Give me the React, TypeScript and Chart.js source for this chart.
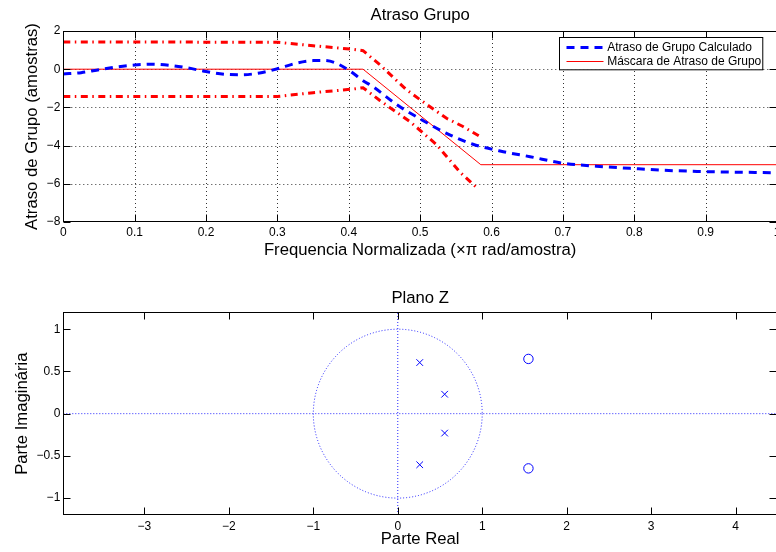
import { useEffect, useRef } from "react";
import { Chart, registerables } from "chart.js";

Chart.register(...registerables);

const FONT = '"Liberation Sans", Arial, Helvetica, sans-serif';

// ---------- Top chart: group delay ----------
const calcFreq = [0, 0.025, 0.05, 0.075, 0.1, 0.125, 0.15, 0.175, 0.2, 0.225, 0.25, 0.275, 0.3, 0.325, 0.35, 0.365, 0.38, 0.4, 0.42, 0.434, 0.467, 0.5, 0.537, 0.574, 0.6165, 0.654, 0.7, 0.747, 0.794, 0.84, 0.888, 0.94, 1.0];
const calcDelay = [-0.25, -0.18, -0.03, 0.12, 0.22, 0.26, 0.2, 0.06, -0.12, -0.26, -0.29, -0.2, 0.02, 0.3, 0.45, 0.46, 0.35, -0.05, -0.6, -0.92, -1.85, -2.6, -3.36, -3.93, -4.32, -4.58, -4.92, -5.08, -5.19, -5.29, -5.35, -5.39, -5.42];

const maskFreq = [0, 0.42, 0.585, 1];
const maskDelay = [0, 0, -5, -5];

const upperFreq = [0, 0.3, 0.35, 0.406, 0.42, 0.444, 0.48, 0.5, 0.537, 0.56, 0.584];
const upperDelay = [1.43, 1.41, 1.23, 1.04, 0.97, 0.22, -1.05, -1.6, -2.57, -3.0, -3.53];

const lowerFreq = [0, 0.3, 0.35, 0.406, 0.42, 0.444, 0.486, 0.523, 0.556, 0.582];
const lowerDelay = [-1.43, -1.43, -1.23, -1.04, -0.97, -1.65, -2.75, -3.95, -5.4, -6.3];

const topXTicks = [0, 0.1, 0.2, 0.3, 0.4, 0.5, 0.6, 0.7, 0.8, 0.9, 1];
const topYTicks = [-8, -6, -4, -2, 0, 2];
const topXLimits = [0, 1];
const topYLimits = [-8, 2];

// ---------- Bottom chart: Z plane ----------
const poleRe = [0.26, 0.555, 0.555, 0.26];
const poleIm = [0.605, 0.23, -0.23, -0.605];
const zeroRe = [1.547, 1.547];
const zeroIm = [0.648, -0.648];
const zXTicks = [-3, -2, -1, 0, 1, 2, 3, 4];
const zYTicks = [-1, -0.5, 0, 0.5, 1];
const zXLimits = [-3.96, 4.49];
const zYLimits = [-1.2, 1.2];
const unitRadius = 1;

const BLUE = "#0000ff";
const RED = "#ff0000";
const DOT_BLUE = "rgba(0,0,255,0.85)";

const pts = (xs: number[], ys: number[]) => xs.map((x, i) => ({ x, y: ys[i] }));
const fmt = (v: number | string) => String(v).replace("-", "\u2212");

const matlabPlugin = {
  id: "matlab",
  beforeDatasetsDraw(chart: any, _args: any, opts: any) {
    const { ctx, chartArea: a, scales } = chart;
    const xs = scales.x;
    const ys = scales.y;
    ctx.save();
    if (opts.grid) {
      ctx.strokeStyle = "rgba(0,0,0,0.8)";
      ctx.lineWidth = 1;
      ctx.setLineDash([1, 3]);
      ctx.beginPath();
      for (const t of xs.ticks) {
        const px = Math.round(xs.getPixelForValue(t.value)) + 0.5;
        if (px < a.left + 2 || px > a.right - 2) continue;
        ctx.moveTo(px, a.top);
        ctx.lineTo(px, a.bottom);
      }
      for (const t of ys.ticks) {
        const py = Math.round(ys.getPixelForValue(t.value)) + 0.5;
        if (py < a.top + 2 || py > a.bottom - 2) continue;
        ctx.moveTo(a.left, py);
        ctx.lineTo(a.right, py);
      }
      ctx.stroke();
    }
    if (opts.unitCircle) {
      const cx = xs.getPixelForValue(0);
      const cy = ys.getPixelForValue(0);
      const rx = xs.getPixelForValue(unitRadius) - cx;
      const ry = cy - ys.getPixelForValue(unitRadius);
      ctx.strokeStyle = DOT_BLUE;
      ctx.lineWidth = 1;
      ctx.setLineDash([1, 2]);
      ctx.beginPath();
      ctx.ellipse(cx, cy, rx, ry, 0, 0, Math.PI * 2);
      ctx.stroke();
    }
    ctx.restore();
  },
  afterDatasetsDraw(chart: any, _args: any, opts: any) {
    const { ctx, chartArea: a, scales } = chart;
    const xs = scales.x;
    const ys = scales.y;
    const L = Math.round(a.left) + 0.5;
    const R = Math.round(a.right) - 0.5;
    const T = Math.round(a.top) + 0.5;
    const B = Math.round(a.bottom) - 0.5;
    ctx.save();
    ctx.setLineDash([]);
    ctx.strokeStyle = "#000";
    ctx.lineWidth = 1;
    const tl = 7;
    ctx.beginPath();
    for (const t of xs.ticks) {
      const px = Math.round(xs.getPixelForValue(t.value)) + 0.5;
      ctx.moveTo(px, B);
      ctx.lineTo(px, B - tl);
      ctx.moveTo(px, T);
      ctx.lineTo(px, T + tl);
    }
    for (const t of ys.ticks) {
      const py = Math.round(ys.getPixelForValue(t.value)) + 0.5;
      ctx.moveTo(L, py);
      ctx.lineTo(L + tl, py);
      ctx.moveTo(R, py);
      ctx.lineTo(R - tl, py);
    }
    ctx.stroke();
    ctx.strokeRect(L, T, R - L, B - T);

    if (opts.legend) {
      const items = chart.data.datasets.filter((d: any) => d.label);
      ctx.font = `12px ${FONT}`;
      const textW = Math.max(...items.map((d: any) => ctx.measureText(d.label).width));
      const sampleL = 7;
      const sampleW = 37;
      const gap = 3.7;
      const rowH = 14;
      const w = sampleL + sampleW + gap + textW + 1.5;
      const h = 10 + rowH * (items.length - 1) + 8.3;
      const x0 = Math.round(a.right - 15 - w) + 0.5;
      const y0 = Math.round(a.top + 5.7) + 0.5;
      ctx.fillStyle = "#fff";
      ctx.fillRect(x0, y0, w, h);
      ctx.strokeStyle = "#000";
      ctx.lineWidth = 1;
      ctx.strokeRect(x0, y0, w, h);
      items.forEach((d: any, i: number) => {
        const cy = y0 + 10 + i * rowH;
        ctx.save();
        ctx.strokeStyle = d.borderColor;
        ctx.lineWidth = d.borderWidth;
        ctx.setLineDash(d.borderDash || []);
        ctx.beginPath();
        ctx.moveTo(x0 + sampleL, cy);
        ctx.lineTo(x0 + sampleL + sampleW, cy);
        ctx.stroke();
        ctx.restore();
        ctx.fillStyle = "#000";
        ctx.textBaseline = "middle";
        ctx.textAlign = "left";
        ctx.fillText(d.label, x0 + sampleL + sampleW + gap, cy);
      });
    }
    ctx.restore();
  },
};

function axis(
  ticksArr: number[],
  limits: number[],
  kind: "x" | "y",
  size: number,
  tickPad: number,
  titleText: string,
  titlePad: any
) {
  return {
    type: "linear",
    min: limits[0],
    max: limits[1],
    grid: { display: false, drawTicks: false },
    border: { display: false },
    afterBuildTicks: (s: any) => {
      s.ticks = ticksArr.map((v) => ({ value: v }));
    },
    afterFit: (s: any) => {
      if (kind === "x") {
        s.height = size;
        s.paddingLeft = 0;
        s.paddingRight = 0;
      } else {
        s.width = size;
        s.paddingTop = 0;
        s.paddingBottom = 0;
      }
    },
    ticks: {
      font: { family: FONT, size: 12 },
      color: "#000",
      padding: tickPad,
      maxRotation: 0,
      minRotation: 0,
      autoSkip: false,
      callback: (v: any) => fmt(v),
    },
    title: {
      display: true,
      text: titleText,
      color: "#000",
      font: { family: FONT, size: 16.7 },
      padding: titlePad,
    },
  };
}

function topConfig(): any {
  return {
    type: "scatter",
    data: {
      datasets: [
        {
          label: "Atraso de Grupo Calculado",
          data: pts(calcFreq, calcDelay),
          showLine: true,
          borderColor: BLUE,
          borderWidth: 3,
          borderDash: [8, 6],
          pointRadius: 0,
          cubicInterpolationMode: "monotone",
        },
        {
          label: "Máscara de Atraso de Grupo",
          data: pts(maskFreq, maskDelay),
          showLine: true,
          borderColor: RED,
          borderWidth: 1,
          pointRadius: 0,
        },
        {
          data: pts(upperFreq, upperDelay),
          showLine: true,
          borderColor: RED,
          borderWidth: 3,
          borderDash: [7, 4.5, 1.5, 4.5],
          pointRadius: 0,
        },
        {
          data: pts(lowerFreq, lowerDelay),
          showLine: true,
          borderColor: RED,
          borderWidth: 3,
          borderDash: [7, 4.5, 1.5, 4.5],
          pointRadius: 0,
        },
      ],
    },
    options: {
      responsive: false,
      animation: false,
      devicePixelRatio: 1,
      events: [],
      layout: { padding: { left: 0, right: 3, top: 0, bottom: 0 }, autoPadding: false },
      plugins: {
        legend: { display: false },
        tooltip: { enabled: false },
        title: {
          display: true,
          text: "Atraso Grupo",
          fullSize: false,
          color: "#000",
          font: { family: FONT, size: 16.7, weight: "normal" },
          padding: { top: 5, bottom: 5.96 },
        },
        matlab: { grid: true, legend: true },
      },
      scales: {
        x: axis(topXTicks, topXLimits, "x", 54, 3, "Frequencia Normalizada (×π rad/amostra)", { top: 0, bottom: 15.8 }),
        y: axis(topYTicks, topYLimits, "y", 63.3, 3, "Atraso de Grupo (amostras)", { top: 22.8, bottom: 0 }),
      },
    },
    plugins: [matlabPlugin],
  };
}

function bottomConfig(): any {
  return {
    type: "scatter",
    data: {
      datasets: [
        {
          data: pts(zXLimits, [0, 0]),
          showLine: true,
          borderColor: DOT_BLUE,
          borderWidth: 1,
          borderDash: [1, 2],
          pointRadius: 0,
        },
        {
          data: pts([0, 0], zYLimits),
          showLine: true,
          borderColor: DOT_BLUE,
          borderWidth: 1,
          borderDash: [1, 2],
          pointRadius: 0,
        },
        {
          data: pts(poleRe, poleIm),
          showLine: false,
          pointStyle: "crossRot",
          pointRadius: 4.7,
          borderColor: BLUE,
          backgroundColor: BLUE,
          pointBorderWidth: 1,
        },
        {
          data: pts(zeroRe, zeroIm),
          showLine: false,
          pointStyle: "circle",
          pointRadius: 4.7,
          borderColor: BLUE,
          backgroundColor: "rgba(0,0,0,0)",
          pointBorderWidth: 1,
        },
      ],
    },
    options: {
      responsive: false,
      animation: false,
      devicePixelRatio: 1,
      events: [],
      layout: { padding: { left: 0, right: 3, top: 0, bottom: 0 }, autoPadding: false },
      plugins: {
        legend: { display: false },
        tooltip: { enabled: false },
        title: {
          display: true,
          text: "Plano Z",
          fullSize: false,
          color: "#000",
          font: { family: FONT, size: 16.7, weight: "normal" },
          padding: { top: 12.2, bottom: 4.06 },
        },
        matlab: { grid: false, legend: false, unitCircle: true },
      },
      scales: {
        x: axis(zXTicks, zXLimits, "x", 37, 4, "Parte Real", { top: 0, bottom: 2.3 }),
        y: axis(zYTicks, zYLimits, "y", 63.3, 3, "Parte Imaginária", { top: 12.6, bottom: 0 }),
      },
    },
    plugins: [matlabPlugin],
  };
}

export default function App() {
  const topRef = useRef<HTMLCanvasElement>(null);
  const botRef = useRef<HTMLCanvasElement>(null);
  useEffect(() => {
    const c1 = new Chart(topRef.current as HTMLCanvasElement, topConfig());
    const c2 = new Chart(botRef.current as HTMLCanvasElement, bottomConfig());
    return () => {
      c1.destroy();
      c2.destroy();
    };
  }, []);
  return (
    <div
      style={{
        position: "fixed",
        left: 0,
        top: 0,
        width: 776,
        height: 552,
        overflow: "hidden",
        background: "#fff",
      }}
    >
      <canvas
        ref={topRef}
        width={780}
        height={276}
        style={{ position: "absolute", left: 0, top: 0, width: 780, height: 276 }}
      />
      <canvas
        ref={botRef}
        width={780}
        height={276}
        style={{ position: "absolute", left: 0, top: 276, width: 780, height: 276 }}
      />
    </div>
  );
}
